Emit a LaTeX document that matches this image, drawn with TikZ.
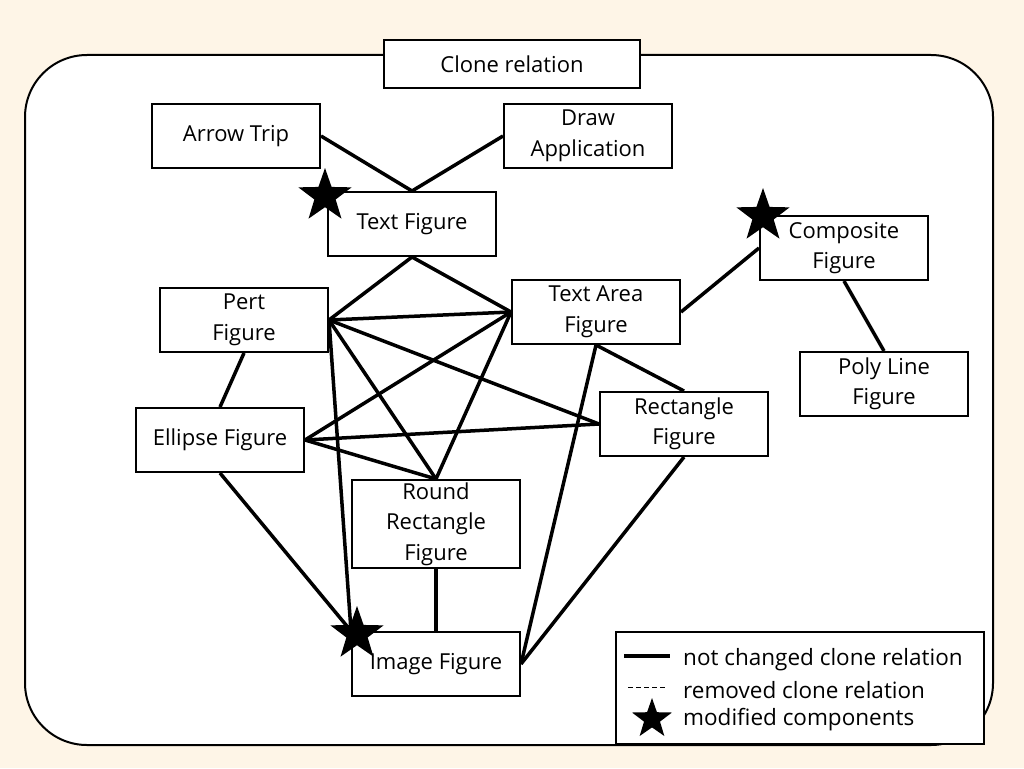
\documentclass[tikz,border=0pt]{standalone}
\usepackage{fontspec}
\setmainfont{Open Sans}
\usetikzlibrary{shapes.geometric}
\begin{document}
\begin{tikzpicture}[x=1pt,y=-1pt,
 box/.style={draw,line width=2pt,fill=white,minimum width=168pt,minimum height=64pt,align=center,font=\fontsize{22}{30.5}\selectfont,inner sep=0pt},
 edge/.style={line width=3.5pt},
 leg/.style={anchor=west,font=\fontsize{22.5}{24}\selectfont,inner sep=0pt},
 mystar/.style={star,star points=5,star point ratio=2.5,fill=black,minimum size=56pt,inner sep=0pt}]
\useasboundingbox (0,0) rectangle (1024,768);
\fill[yellow!8!orange!8] (0,0) rectangle (1024,768);
\draw[line width=2pt,fill=white,rounded corners=62pt] (25,55) rectangle (993,745);
\node[box,minimum width=256pt,minimum height=48pt] (cr) at (512,64) {Clone relation};
\node[box] (at) at (236,136) {Arrow Trip};
\node[box] (da) at (588,136) {Draw\\Application};
\node[box] (tf) at (412,224) {Text Figure};
\node[box] (cf) at (844,248) {Composite\\Figure};
\node[box] (pf) at (244,320) {Pert\\Figure};
\node[box] (ta) at (596,312) {Text Area\\Figure};
\node[box] (pl) at (884,384) {Poly Line\\Figure};
\node[box] (rf) at (684,424) {Rectangle\\Figure};
\node[box] (ef) at (220,440) {Ellipse Figure};
\node[box,minimum height=88pt] (rr) at (436,524) {Round\\Rectangle\\Figure};
\node[box] (im) at (436,664) {Image Figure};
\draw[edge] (at.east) -- (tf.north);
\draw[edge] (da.west) -- (tf.north);
\draw[edge] (tf.south) -- (pf.east);
\draw[edge] (tf.south) -- (ta.west);
\draw[edge] (pf.east) -- (ta.west);
\draw[edge] (pf.east) -- (rr.north);
\draw[edge] (pf.east) -- (rf.west);
\draw[edge] (pf.east) -- (im.north west);
\draw[edge] (pf.south) -- (ef.north);
\draw[edge] (ta.west) -- (ef.east);
\draw[edge] (ta.west) -- (rr.north);
\draw[edge] (ta.south) -- (rf.north);
\draw[edge] (ta.south) -- (im.east);
\draw[edge] (ta.east) -- (cf.west);
\draw[edge] (cf.south) -- (pl.north);
\draw[edge] (ef.east) -- (rf.west);
\draw[edge] (ef.east) -- (rr.north);
\draw[edge] (ef.south) -- (im.north west);
\draw[edge] (rf.south) -- (im.east);
\draw[edge] (rr.south) -- (im.north);
\node[mystar] (s1) at (325,196) {};
\node[mystar] (s2) at (763,216) {};
\node[mystar] (s3) at (357,634) {};
\node[draw,line width=2pt,fill=white,minimum width=368pt,minimum height=112pt] (lg) at (800,688) {};
\coordinate (l1a) at (624,656); \coordinate (l1b) at (670,656);
\coordinate (l2a) at (628,687); \coordinate (l2b) at (666,687);
\draw[edge] (l1a) -- (l1b);
\draw[line width=1pt,dash pattern=on 5pt off 3pt] (l2a) -- (l2b);
\node[mystar,minimum size=42pt] (s4) at (652,719) {};
\node[leg] (t1) at (683,660) {not changed clone relation};
\node[leg] (t2) at (683,690) {removed clone relation};
\node[leg] (t3) at (683,720) {modified components};
\end{tikzpicture}
\end{document}
